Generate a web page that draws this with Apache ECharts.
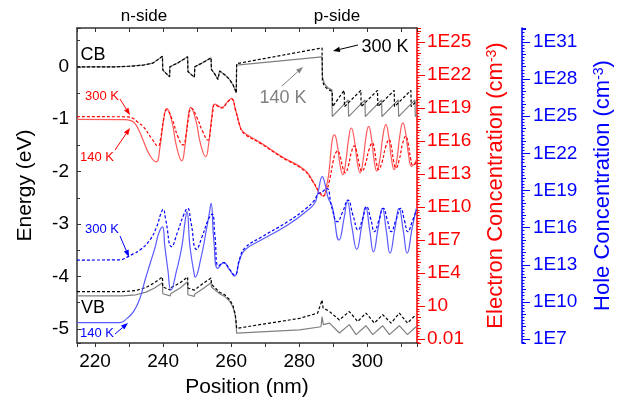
<!DOCTYPE html>
<html>
<head>
<meta charset="utf-8">
<script src="https://cdn.jsdelivr.net/npm/echarts@6.0.0/dist/echarts.min.js"></script>
<style>
  html, body { margin: 0; padding: 0; background: #fff; }
  #chart { width: 622px; height: 403px; }
</style>
</head>
<body>
<div id="chart"></div>
<script>
// band edges, [position nm, energy eV]
const cbNside = [[214.7, 0], [226, 0], [230, 0.01], [234, 0.03], [237, 0.07], [239.8, 0.2],
  [239.9, -0.06], [240.8, -0.12], [241.9, -0.19], [242.0, 0.0], [244.5, 0.08], [247.2, 0.19],
  [247.3, -0.09], [248.3, -0.15], [249.2, -0.2], [249.3, 0.0], [251.7, 0.08], [254.1, 0.17],
  [254.2, -0.05], [255.2, -0.14], [256.1, -0.24], [256.6, -0.08], [258.1, -0.15], [259.5, -0.24],
  [260.5, -0.34], [261.3, -0.46], [261.5, -0.5]];
const cb300P = [[261.6, 0.06], [286.7, 0.36], [286.8, -0.27], [287.4, -0.37], [288.4, -0.43], [289.7, -0.47],
  [289.8, -0.76], [293.2, -0.45], [293.3, -0.76], [298.1, -0.45], [298.2, -0.76], [303.0, -0.45],
  [303.1, -0.76], [307.9, -0.45], [308.0, -0.76], [312.8, -0.45], [312.9, -0.76], [314.65, -0.64]];
const cb140P = [[261.6, 0.03], [286.7, 0.19], [286.8, -0.19], [287.4, -0.32], [288.4, -0.4], [289.6, -0.44],
  [289.7, -0.95], [294.4, -0.63], [294.5, -0.95], [299.3, -0.63], [299.4, -0.95], [304.2, -0.63],
  [304.3, -0.95], [309.1, -0.63], [309.2, -0.95], [314.0, -0.63], [314.1, -0.95], [314.65, -0.91]];
const vb300 = [[214.7, -4.29], [228, -4.29], [232, -4.27], [235, -4.21], [237.5, -4.12], [239.8, -4.01],
  [239.9, -4.2], [242.1, -4.26], [242.2, -4.22], [245, -4.12], [247.2, -4.01], [247.3, -4.22],
  [249.2, -4.26], [249.3, -4.23], [252, -4.12], [254.1, -4.03], [254.2, -4.15], [256.6, -4.3],
  [258.1, -4.35], [259.5, -4.44], [260.5, -4.55], [261.2, -4.72], [261.5, -4.9], [261.6, -4.99],
  [280.1, -4.8], [285.4, -4.7], [286.7, -4.45], [287.0, -4.6], [288.9, -4.67], [291.8, -4.83],
  [294.7, -4.67], [297.2, -4.86], [299.6, -4.7], [302.1, -4.89], [304.5, -4.73], [307.0, -4.89],
  [309.4, -4.7], [311.8, -4.89], [314.3, -4.73]];
const vb140 = [[214.7, -4.37], [228, -4.37], [232, -4.35], [235, -4.3], [237.5, -4.22], [239.8, -4.12],
  [239.9, -4.33], [242.1, -4.37], [242.2, -4.33], [245, -4.22], [247.2, -4.1], [247.3, -4.35],
  [249.2, -4.38], [249.3, -4.34], [252, -4.22], [254.1, -4.12], [254.2, -4.2], [256.6, -4.33],
  [258.1, -4.38], [259.5, -4.47], [260.5, -4.58], [261.2, -4.75], [261.5, -4.95], [261.6, -5.08],
  [280.1, -5.02], [286.4, -4.96], [286.7, -4.77], [287.1, -4.92], [288.9, -4.89], [291.8, -5.08],
  [294.7, -4.92], [296.7, -5.11], [299.6, -4.94], [301.6, -5.11], [304.5, -4.94], [306.5, -5.11],
  [309.4, -4.94], [311.8, -5.11], [314.3, -4.96]];

// electron concentration, [position nm, log10(cm^-3)]
const el140 = [[214.7, 17.97], [228.8, 17.95], [230.5, 17.85], [231.7, 17.61], [233, 16.9], [234.1, 16.09],
  [236.1, 14.7], [238.0, 14.1], [239.03, 15.32], [240.07, 17.75], [241.1, 18.97], [242.57, 17.78],
  [244.03, 15.39], [245.5, 14.2], [246.37, 15.43], [247.23, 17.84], [248.1, 19.06], [249.57, 17.94],
  [251.03, 15.69], [252.5, 14.57], [253.4, 15.77], [254.3, 18.16], [255.2, 19.36], [257.2, 19.06],
  [259.0, 19.6], [260.1, 19.88], [261.3, 18.82], [262.5, 17.45], [263.0, 17.03], [264.0, 16.7],
  [268.8, 15.82], [274.7, 14.61], [281.5, 13.39], [284.0, 12.34], [285.9, 11.25], [287.0, 11.0],
  [288.2, 12.2], [288.8, 13.36], [289.7, 16.09], [290.35, 16.55], [291.17, 15.65], [291.98, 13.84],
  [292.8, 12.94], [293.63, 14.0], [294.47, 16.12], [295.3, 17.18], [296.17, 16.16], [297.03, 14.11],
  [297.9, 13.09], [298.73, 14.15], [299.57, 16.27], [300.4, 17.33], [301.2, 16.31], [302.0, 14.27],
  [302.8, 13.25], [303.68, 14.31], [304.57, 16.42], [305.45, 17.48], [306.27, 16.46], [307.08, 14.41],
  [307.9, 13.39], [308.75, 14.45], [309.6, 16.58], [310.45, 17.64], [311.3, 16.65], [312.15, 14.69],
  [313.0, 13.7], [313.9, 13.95], [314.65, 14.5]];
const el300 = [[214.7, 18.21], [229.4, 18.2], [231.1, 18.06], [232.6, 17.7], [234.2, 17.3], [236.6, 16.25],
  [238.5, 15.55], [239.33, 16.37], [240.17, 18.0], [241.0, 18.82], [242.63, 18.0], [244.27, 16.46],
  [245.9, 15.64], [246.7, 16.47], [247.5, 18.14], [248.3, 18.97], [249.93, 18.14], [251.57, 16.9],
  [253.2, 16.09], [253.87, 16.9], [254.53, 18.5], [255.2, 19.3], [257.2, 19.0], [259.0, 19.55],
  [260.1, 19.82], [261.3, 18.78], [262.5, 17.4], [263.2, 16.9], [264.3, 16.55], [268.8, 15.75],
  [274.7, 14.55], [281.5, 13.3], [284.0, 12.3], [285.9, 11.4], [287.2, 11.0], [287.8, 11.3],
  [288.8, 12.3], [290.0, 14.2], [290.6, 14.85], [291.3, 15.09], [292.03, 14.59], [292.77, 13.6],
  [293.5, 13.1], [294.4, 13.71], [295.3, 14.94], [296.2, 15.55], [296.93, 14.98], [297.67, 13.83],
  [298.4, 13.25], [299.43, 13.89], [300.47, 15.18], [301.5, 15.82], [302.1, 15.22], [302.7, 14.0],
  [303.3, 13.4], [304.33, 14.08], [305.37, 15.44], [306.4, 16.12], [307.07, 15.48], [307.73, 14.19],
  [308.4, 13.55], [309.37, 14.27], [310.33, 15.71], [311.3, 16.43], [312.0, 15.77], [312.7, 14.47],
  [313.4, 13.8], [314.0, 13.9], [314.65, 14.3]];

// hole concentration, [position nm, log10(cm^-3)]
const h140 = [[214.7, 8.32], [227.3, 8.33], [229.4, 8.67], [231.3, 9.21], [233.2, 10.29], [234.7, 11.77],
  [236.2, 13.12], [237.7, 14.46], [238.7, 15.54], [239.8, 16.07], [240.5, 14.5], [241.4, 12.6],
  [242.3, 10.96], [244.0, 12.58], [245.5, 14.46], [246.5, 16.6], [247.0, 17.3], [247.9, 14.46],
  [249.1, 12.31], [249.4, 12.0], [251.0, 13.4], [252.7, 15.8], [253.6, 17.2], [254.1, 17.97],
  [254.9, 15.0], [256.1, 12.7], [257.8, 13.17], [259.5, 12.6], [261.0, 12.09], [262.5, 13.38],
  [264.0, 14.19], [268.8, 15.0], [276.6, 16.21], [282, 17.3], [284.5, 17.97], [285.44, 18.77],
  [286.8, 20.12], [287.5, 19.6], [288.5, 18.4], [289.7, 17.69], [291.7, 15.0], [293.2, 16.8],
  [294.1, 18.1], [295.5, 16.0], [296.9, 14.25], [298.4, 16.2], [299.5, 17.69], [300.7, 15.8],
  [301.8, 14.05], [303.2, 16.0], [304.4, 17.56], [305.6, 15.7], [306.65, 13.93], [308.1, 15.9],
  [309.3, 17.56], [310.6, 15.7], [311.7, 13.93], [313.2, 16.0], [314.4, 17.56]];
const h300 = [[214.7, 13.38], [227.3, 13.4], [229.3, 13.6], [231.3, 13.9], [233.2, 14.19], [236.1, 15.0],
  [238.1, 16.07], [239.3, 17.1], [240.0, 17.48], [240.8, 16.6], [242.5, 14.46], [244.2, 15.6],
  [246.0, 17.0], [247.2, 17.56], [248.2, 16.4], [249.8, 14.25], [251.5, 15.3], [253.2, 16.6],
  [254.4, 17.1], [255.2, 15.4], [256.3, 12.9], [257.8, 13.17], [259.5, 12.65], [261.0, 12.17],
  [262.5, 13.5], [264.0, 14.35], [268.8, 15.22], [276.6, 16.48], [282, 17.55], [284.5, 18.23],
  [285.44, 18.7], [286.8, 18.9], [288.07, 19.18], [289.6, 17.6], [291.2, 16.48], [292.8, 17.3],
  [294.3, 18.23], [295.8, 17.0], [297.3, 15.81], [298.6, 16.7], [299.8, 17.69], [301.0, 16.7],
  [302.1, 15.67], [303.4, 16.6], [304.7, 17.56], [305.9, 16.6], [307.0, 15.67], [308.4, 16.6],
  [309.8, 17.56], [310.9, 16.6], [311.9, 15.67], [313.2, 16.5], [314.4, 17.42]];

const FONT = '"Liberation Sans", Arial, Helvetica, sans-serif';
const chart = echarts.init(document.getElementById('chart'));

function txt(text, x, y, size, color) {
  return {
    type: 'text', x: x, y: y,
    style: { text: text, fill: color, font: size + 'px ' + FONT,
      textAlign: 'center', textVerticalAlign: 'middle', align: 'center', verticalAlign: 'middle' }
  };
}
function arrow(x1, y1, x2, y2, color) {
  const a = Math.atan2(y2 - y1, x2 - x1), L = 7, W = 2.6;
  const bx = x2 - L * Math.cos(a), by = y2 - L * Math.sin(a);
  const px = -Math.sin(a) * W, py = Math.cos(a) * W;
  return [
    { type: 'line', shape: { x1: x1, y1: y1, x2: bx, y2: by }, style: { stroke: color, lineWidth: 1 } },
    { type: 'polygon', shape: { points: [[x2, y2], [bx + px, by + py], [bx - px, by - py]] }, style: { fill: color } }
  ];
}

function line(data, yAxisIndex, color, dashed, smooth) {
  return {
    type: 'line', data: data, yAxisIndex: yAxisIndex, symbol: 'none',
    smooth: smooth ? 0.5 : false,
    lineStyle: { color: color, width: 1.2, type: dashed ? [3, 2] : 'solid' }
  };
}

const redLabel = v => v === -2 ? '0.01' : (v === 1 ? '10' : '1E' + v);
const axisBlack = { onZero: false, lineStyle: { color: '#333', width: 1.5 } };

chart.setOption({
  animation: false,
  textStyle: { fontFamily: FONT },
  grid: [
    { left: 77, right: 204, top: 28, bottom: 60 },
    { left: 77, right: 204, top: 42, bottom: 64 }
  ],
  xAxis: [
    { type: 'value', gridIndex: 0, position: 'bottom', min: 214.7, max: 314.6, splitNumber: 5,
      axisLine: axisBlack, splitLine: { show: false },
      axisTick: { inside: false, length: 4, lineStyle: { color: '#333' } },
      minorTick: { show: true, splitNumber: 2, length: 4, lineStyle: { color: '#333' } },
      axisLabel: { fontSize: 19, color: '#000', margin: 9, showMinLabel: false, showMaxLabel: false },
      name: 'Position (nm)', nameLocation: 'middle', nameGap: 34,
      nameTextStyle: { fontSize: 21, color: '#000' } },
    { type: 'value', gridIndex: 0, position: 'top', min: 214.7, max: 314.6, splitNumber: 5,
      axisLine: axisBlack, splitLine: { show: false },
      axisTick: { inside: true, length: 4, lineStyle: { color: '#333' } },
      minorTick: { show: true, splitNumber: 2, length: 4, lineStyle: { color: '#333' } },
      axisLabel: { show: false } },
    { type: 'value', gridIndex: 1, min: 214.7, max: 314.6, show: false, axisLine: { onZero: false } }
  ],
  yAxis: [
    { type: 'value', gridIndex: 0, position: 'left', min: -5.27, max: 0.74, splitNumber: 6,
      axisLine: { show: true, onZero: false, lineStyle: { color: '#333', width: 1.5 } }, splitLine: { show: false },
      axisTick: { inside: true, length: 4, lineStyle: { color: '#333' } },
      minorTick: { show: true, splitNumber: 2, length: 3, lineStyle: { color: '#333' } },
      axisLabel: { fontSize: 19, color: '#000', margin: 8, showMinLabel: false, showMaxLabel: false },
      name: 'Energy (eV)', nameLocation: 'middle', nameRotate: 90, nameGap: 41,
      nameTextStyle: { fontSize: 21, color: '#000' } },
    { type: 'value', gridIndex: 0, position: 'right', offset: 0, min: -2.36, max: 26.27, splitNumber: 28,
      axisLine: { show: true, onZero: false, lineStyle: { color: '#ff0000', width: 1.5 } }, splitLine: { show: false },
      axisTick: { length: 4, lineStyle: { color: '#ff0000' } },
      minorTick: { show: true, splitNumber: 4, length: 2.5, lineStyle: { color: '#ff0000' } },
      axisLabel: { show: false },
      name: 'Electron Concentration (cm{s|-3})', nameLocation: 'middle', nameRotate: 90, nameGap: 68,
      nameTextStyle: { fontSize: 22, color: '#ff0000',
        rich: { s: { fontSize: 14, color: '#ff0000', verticalAlign: 'top' } } } },
    { type: 'value', gridIndex: 0, position: 'right', offset: 105, min: 6.68, max: 32.13, splitNumber: 25,
      axisLine: { show: true, onZero: false, lineStyle: { color: '#0000ff', width: 1.5 } }, splitLine: { show: false },
      axisTick: { length: 4, lineStyle: { color: '#0000ff' } },
      minorTick: { show: true, splitNumber: 4, length: 2.5, lineStyle: { color: '#0000ff' } },
      axisLabel: { show: false },
      name: 'Hole Concentration (cm{s|-3})', nameLocation: 'middle', nameRotate: 90, nameGap: 70,
      nameTextStyle: { fontSize: 22, color: '#0000ff',
        rich: { s: { fontSize: 14, color: '#0000ff', verticalAlign: 'top' } } } },
    { type: 'value', gridIndex: 1, position: 'right', offset: 0, min: -2, max: 25, interval: 3,
      axisLine: { show: false, onZero: false }, splitLine: { show: false },
      axisTick: { show: true, length: 7, lineStyle: { color: '#ff0000' } },
      axisLabel: { fontSize: 19, color: '#ff0000', margin: 9, formatter: redLabel } },
    { type: 'value', gridIndex: 1, position: 'right', offset: 105, min: 7, max: 31, interval: 3,
      axisLine: { show: false, onZero: false }, splitLine: { show: false },
      axisTick: { show: true, length: 7, lineStyle: { color: '#0000ff' } },
      axisLabel: { fontSize: 19, color: '#0000ff', margin: 10, formatter: v => '1E' + v } }
  ],
  series: [
    line(cbNside.concat(cb140P), 0, '#808080', false, false),
    line(vb140, 0, '#808080', false, false),
    line(cbNside.concat(cb300P), 0, '#000000', true, false),
    line(vb300, 0, '#000000', true, false),
    line(el140, 1, '#ff5a5a', false, true),
    line(el300, 1, '#ff0000', true, true),
    line(h140, 2, '#5a5aff', false, true),
    line(h300, 2, '#0000ff', true, true)
  ],
  graphic: [
    txt('n-side', 144, 16, 17, '#000'),
    txt('p-side', 337, 16, 17, '#000'),
    txt('CB', 93, 55, 18, '#000'),
    txt('VB', 93, 308, 18, '#000'),
    txt('300 K', 385, 47, 18, '#000'),
    txt('140 K', 283, 98, 18, '#808080'),
    txt('300 K', 102, 96, 13, '#ff0000'),
    txt('140 K', 97, 157, 13, '#ff0000'),
    txt('300 K', 102, 229, 13, '#0000ff'),
    txt('140 K', 97, 333, 13, '#0000ff')
  ].concat(
    arrow(358, 45, 333, 51, '#000'),
    arrow(282, 86, 303, 67, '#808080'),
    arrow(120, 99, 130, 115, '#ff0000'),
    arrow(115, 150, 130, 128, '#ff0000'),
    arrow(120, 236, 129, 257, '#0000ff'),
    arrow(115, 334, 128, 323, '#0000ff')
  )
});
</script>
</body>
</html>
